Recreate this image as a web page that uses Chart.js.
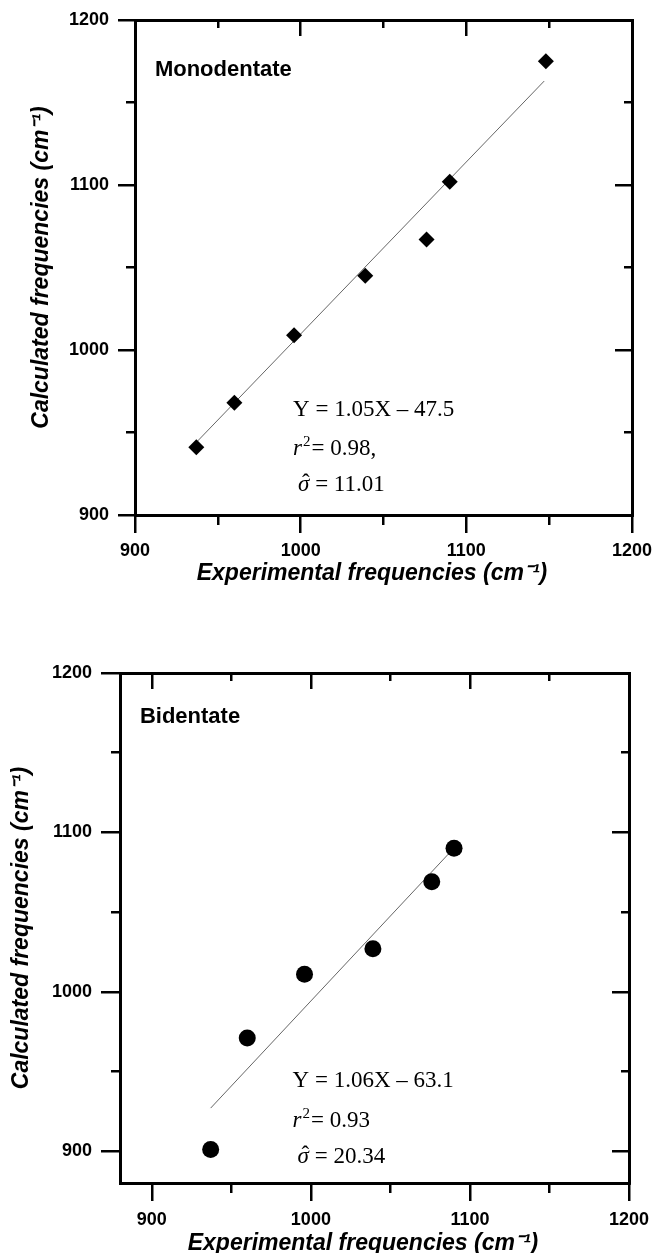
<!DOCTYPE html>
<html>
<head>
<meta charset="utf-8">
<script src="https://cdn.jsdelivr.net/npm/chart.js@4.4.1/dist/chart.umd.min.js"></script>
<style>
    html, body { margin:0; padding:0; background:#fff; overflow:hidden; }
    canvas { position:absolute; left:0; }
    #chartMono { top:0; }
    #chartBi { top:610px; }
</style>
</head>
<body>
<canvas id="chartMono" width="653" height="610"></canvas>
<canvas id="chartBi" width="653" height="650"></canvas>
<script>

/*
  DATA
*/

// monodentate: experimental vs calculated
const monoExp  = [937, 960, 996, 1039, 1076, 1090, 1148];
const monoCalc = [941, 968, 1009, 1045, 1067, 1102, 1175];
const monoFitX = [937, 1147];
const monoFitY = [944, 1163];
const monoStats = ["Y = 1.05X \u2013 47.5", "0.98,", "11.01"];

// bidentate
const biExp  = [937, 960, 996, 1039, 1076, 1090];
const biCalc = [901, 971, 1011, 1027, 1069, 1090];
const biFitX = [937, 1087];
const biFitY = [927, 1087];
const biStats = ["Y = 1.06X \u2013 63.1", "0.93", "20.34"];

const majorTicks = [900, 1000, 1100, 1200];
const minorTicks = [950, 1050, 1150];

const xTitle = "Experimental frequencies (cm\u207B\u00B9)";
const yTitle = "Calculated frequencies (cm\u207B\u00B9)";

/*
  STYLE
*/

const SANS = '"Liberation Sans", Arial, Helvetica, sans-serif';
const SERIF = '"Liberation Serif", "Times New Roman", serif';

const tickFont  = { family: SANS, size: 18, weight: 'bold' };
const titleFont = { family: SANS, size: 23, weight: 'bold', style: 'italic' };

function toPoints(xs, ys){
    return xs.map((x, i) => ({ x: x, y: ys[i] }));
}

function makeAxis(o){
    return {
        type: 'linear',
        position: o.position,
        weight: o.weight,
        min: o.min,
        max: o.max,
        afterBuildTicks: s => { s.ticks = o.ticks.map(v => ({ value: v })); },
        afterFit: s => {
            if (s.isHorizontal()) s.height = o.size; else s.width = o.size;
            s.paddingLeft = s.paddingRight = s.paddingTop = s.paddingBottom = 0;
        },
        grid: {
            drawOnChartArea: false,
            drawTicks: true,
            tickLength: o.tick,
            lineWidth: 2.5,
            color: '#000'
        },
        border: { display: true, width: 3, color: '#000' },
        ticks: {
            display: !!o.labels,
            padding: o.labelPad || 0,
            color: '#000',
            font: tickFont,
            autoSkip: false,
            maxRotation: 0,
            callback: v => String(v)
        },
        title: o.title ? {
            display: true,
            text: o.title,
            color: '#000',
            font: titleFont,
            padding: o.titlePad
        } : { display: false }
    };
}

// stats text + panel name, placed in data units
const notesPlugin = {
    id: 'notes',
    afterDatasetsDraw(chart, args, opts){
        const ctx = chart.ctx;
        const xs = chart.scales.x;
        const ys = chart.scales.y;
        ctx.save();
        ctx.fillStyle = '#000';
        ctx.textAlign = 'left';
        ctx.textBaseline = 'alphabetic';

        ctx.font = 'bold 22px ' + SANS;
        ctx.fillText(opts.name, xs.getPixelForValue(opts.nameAt[0]), ys.getPixelForValue(opts.nameAt[1]));

        const x0 = xs.getPixelForValue(opts.statsX);
        const r = opts.statsY.map(v => ys.getPixelForValue(v));

        // row 1: equation
        ctx.font = '23px ' + SERIF;
        ctx.fillText(opts.stats[0], x0, r[0]);

        // row 2: r^2
        ctx.font = 'italic 23px ' + SERIF;
        ctx.fillText('r', x0, r[1]);
        let w = ctx.measureText('r').width;
        ctx.font = '15px ' + SERIF;
        ctx.fillText('2', x0 + w + 1, r[1] - 9);
        w += ctx.measureText('2').width + 1;
        ctx.font = '23px ' + SERIF;
        ctx.fillText('= ' + opts.stats[1], x0 + w + 1, r[1]);

        // row 3: sigma hat
        ctx.font = 'italic 23px ' + SERIF;
        const sx = x0 + 5;
        ctx.fillText('\u03C3', sx, r[2]);
        const sw = ctx.measureText('\u03C3').width;
        ctx.font = '23px ' + SERIF;
        ctx.textAlign = 'center';
        ctx.fillText('\u02C6', sx + sw / 2 + 2, r[2] - 1);
        ctx.textAlign = 'left';
        ctx.fillText(' = ' + opts.stats[2], sx + sw, r[2]);

        ctx.restore();
    }
};

function renderPanel(id, cfg){
    const canvas = document.getElementById(id);
    const lo = cfg.min;
    const hi = 1200;
    return new Chart(canvas, {
        type: 'scatter',
        data: {
            datasets: [
                {
                    data: toPoints(cfg.xs, cfg.ys),
                    pointStyle: cfg.marker,
                    pointRadius: cfg.radius,
                    pointHoverRadius: cfg.radius,
                    backgroundColor: '#000',
                    borderColor: '#000',
                    borderWidth: 0,
                    showLine: false
                },
                {
                    data: toPoints(cfg.fitX, cfg.fitY),
                    showLine: true,
                    pointRadius: 0,
                    borderColor: '#555',
                    borderWidth: 0.9
                }
            ]
        },
        options: {
            responsive: false,
            animation: false,
            events: [],
            layout: { padding: cfg.pad },
            plugins: {
                legend: { display: false },
                tooltip: { enabled: false },
                notes: cfg.notes
            },
            scales: {
                // trailing em space nudges the centred title a little to the left, as in the original
                x:       makeAxis({ position: 'bottom', weight: 1, min: lo, max: hi, ticks: majorTicks, tick: 18, size: cfg.bottomSize, labels: true, labelPad: cfg.xLabelPad, title: xTitle + '\u2003', titlePad: { top: 0, bottom: cfg.xTitlePad } }),
                xMinor:  makeAxis({ position: 'bottom', weight: 0, min: lo, max: hi, ticks: minorTicks, tick: 10, size: 0 }),
                xTop:    makeAxis({ position: 'top', weight: 1, min: lo, max: hi, ticks: majorTicks, tick: -16, size: 0 }),
                xTopMin: makeAxis({ position: 'top', weight: 0, min: lo, max: hi, ticks: minorTicks, tick: -8, size: 0 }),
                y:       makeAxis({ position: 'left', weight: 1, min: lo, max: hi, ticks: majorTicks, tick: cfg.yTick, size: cfg.leftSize, labels: true, labelPad: 9, title: yTitle, titlePad: { top: cfg.yTitlePad, bottom: 0 } }),
                yMinor:  makeAxis({ position: 'left', weight: 0, min: lo, max: hi, ticks: minorTicks, tick: 9, size: 0 }),
                yRight:  makeAxis({ position: 'right', weight: 1, min: lo, max: hi, ticks: majorTicks, tick: -17, size: 0 }),
                yRightM: makeAxis({ position: 'right', weight: 0, min: lo, max: hi, ticks: minorTicks, tick: -8, size: 0 })
            }
        },
        plugins: [notesPlugin]
    });
}

renderPanel('chartMono', {
    xs: monoExp, ys: monoCalc, fitX: monoFitX, fitY: monoFitY,
    marker: 'rectRot', radius: 8,
    min: 900,
    pad: { top: 20, right: 21, left: 0, bottom: 0 },
    leftSize: 135, bottomSize: 95,
    yTick: 17, xLabelPad: 7, xTitlePad: 23, yTitlePad: 28,
    notes: {
        name: 'Monodentate', nameAt: [912, 1166],
        stats: monoStats, statsX: 995.4, statsY: [960.2, 936.6, 914.8]
    }
});

renderPanel('chartBi', {
    xs: biExp, ys: biCalc, fitX: biFitX, fitY: biFitY,
    marker: 'circle', radius: 8.5,
    min: 880,
    pad: { top: 63, right: 24, left: 0, bottom: 0 },
    leftSize: 120, bottomSize: 77,
    yTick: 19, xLabelPad: 8, xTitlePad: 3, yTitlePad: 8,
    notes: {
        name: 'Bidentate', nameAt: [892.5, 1168.7],
        stats: biStats, statsX: 988.5, statsY: [940.4, 915.3, 892.7]
    }
});

</script>
</body>
</html>
